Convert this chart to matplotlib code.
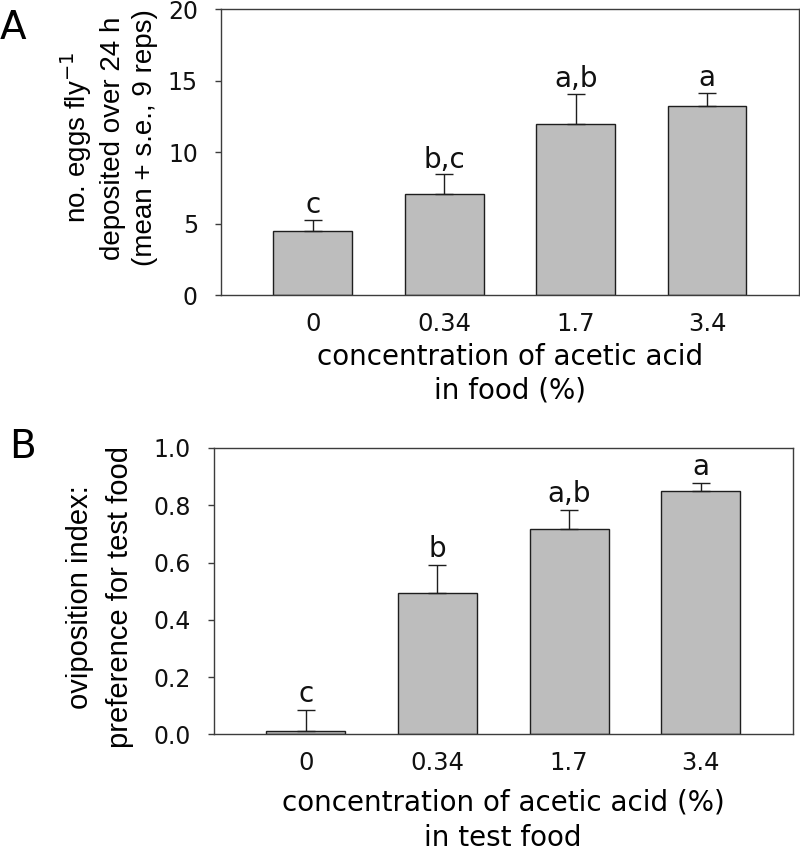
import numpy as np
import matplotlib
matplotlib.use("Agg")
import matplotlib.pyplot as plt

plt.rcParams['font.family'] = ['DejaVu Sans']
ylab_font = ['Liberation Sans', 'DejaVu Sans']

# concentration categories (same for both panels)
conc_labels = ['0', '0.34', '1.7', '3.4']

# panel A: eggs per fly over 24 h
eggs_mean = [4.5, 7.1, 12.0, 13.2]
eggs_se = [0.8, 1.35, 2.1, 0.95]
eggs_letters = ['c', 'b,c', 'a,b', 'a']

# panel B: oviposition index
oi_mean = [0.012, 0.495, 0.716, 0.849]
oi_se = [0.072, 0.096, 0.068, 0.028]
oi_letters = ['c', 'b', 'a,b', 'a']

bar_color = '#bdbdbd'
edge = '#1e1e1e'
spine_col = '#3c3c3c'

fig = plt.figure(figsize=(8, 8.52), dpi=100)
axA = fig.add_axes([0.276, 0.6532, 0.7228, 0.3362])
axB = fig.add_axes([0.267, 0.1381, 0.724, 0.3361])


def draw_panel(ax, means, ses, letters, ylim, yticks, fmt, offset):
    x = np.arange(len(means))
    ax.bar(x, means, width=0.6, color=bar_color, edgecolor=edge, linewidth=1.0, zorder=2)
    ax.errorbar(x, means, yerr=[np.zeros(len(ses)), ses], fmt='none', ecolor=edge,
                elinewidth=1.0, capsize=6.5, capthick=1.0, zorder=3)
    for xi, m, s, lab in zip(x, means, ses, letters):
        ax.annotate(lab, xy=(xi, m + s), xytext=(0, offset), textcoords='offset points',
                    ha='center', va='baseline', fontsize=20, color='#111111')
    ax.set_xlim(-0.7, 3.7)
    ax.set_ylim(*ylim)
    ax.set_yticks(yticks)
    ax.set_yticklabels([fmt.format(v) for v in yticks])
    ax.set_xticks(x)
    ax.set_xticklabels(conc_labels)
    ax.tick_params(axis='y', direction='out', length=4.5, width=1, color=spine_col,
                   labelsize=17, pad=12, labelcolor='#111111')
    ax.tick_params(axis='x', length=0, labelsize=17.5, pad=12, labelcolor='#111111')
    for sp in ax.spines.values():
        sp.set_color(spine_col)
        sp.set_linewidth(1.0)


draw_panel(axA, eggs_mean, eggs_se, eggs_letters, (0, 20), [0, 5, 10, 15, 20], '{:g}', 5)
draw_panel(axB, oi_mean, oi_se, oi_letters, (0, 1.0), [0, 0.2, 0.4, 0.6, 0.8, 1.0], '{:.1f}', 6)

axA.set_ylabel('no. eggs fly$^{-1}$\ndeposited over 24 h\n(mean + s.e., 9 reps)',
               fontsize=20, linespacing=1.3, family=ylab_font, va='center')
axA.yaxis.set_label_coords(-0.195, 0.55)
axA.set_xlabel('concentration of acetic acid\nin food (%)', fontsize=20, linespacing=1.25,
               va='top')
axA.xaxis.set_label_coords(0.5, -0.165)

axB.set_ylabel('oviposition index:\npreference for test food', fontsize=21, linespacing=1.55,
               family=ylab_font, va='center')
axB.yaxis.set_label_coords(-0.196, 0.48)
axB.set_xlabel('concentration of acetic acid (%)\nin test food', fontsize=20, linespacing=1.34,
               va='top')
axB.xaxis.set_label_coords(0.5, -0.19)

fig.text(0.0, 1 - 39 / 852, 'A', fontsize=28, ha='left', va='baseline')
fig.text(0.012, 1 - 458 / 852, 'B', fontsize=28, ha='left', va='baseline')

fig.savefig('out.png', dpi=100)
